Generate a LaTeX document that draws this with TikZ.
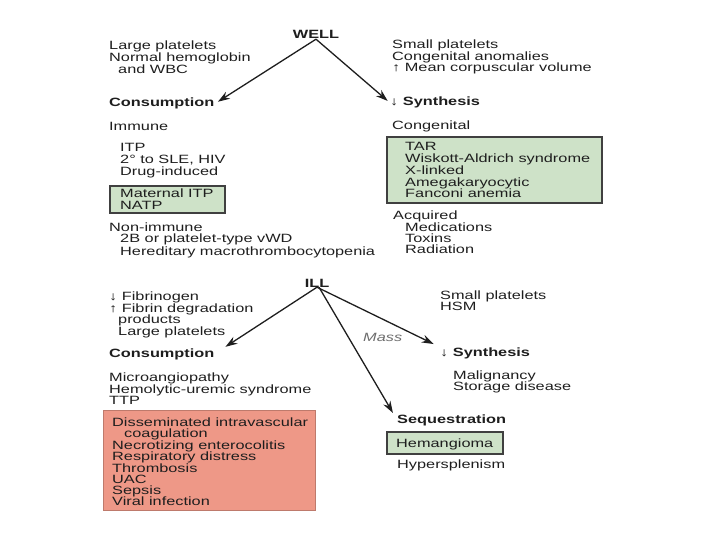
\documentclass[tikz,border=0pt]{standalone}
\usepackage{fontspec}
\setmainfont{Liberation Sans}[FakeStretch=1.36]
\usetikzlibrary{arrows.meta}
\definecolor{boxgreen}{RGB}{206,226,200}
\definecolor{boxred}{RGB}{238,152,135}
\definecolor{ink}{RGB}{30,30,30}

\begin{document}
\begin{tikzpicture}[x=1pt, y=-1pt]
	\tikzstyle{txt}    = [anchor=base west, inner sep=0pt, text=ink, font=\fontsize{12}{12}\selectfont]
	\tikzstyle{head}   = [txt, font=\fontsize{12}{12}\selectfont\bfseries]
	\tikzstyle{greenbox} = [draw=ink!85, line width=1.2pt, fill=boxgreen]
	\tikzstyle{redbox}   = [draw=boxred!80!black, line width=0.8pt, fill=boxred]
	\tikzstyle{branch} = [draw=ink, line width=1.3pt, -{Stealth[length=12pt, width=8pt]}]

	\useasboundingbox (0,0) rectangle (720,540);

%	WELL
	\node[head, anchor=base] (well) at (316, 39) {WELL};
	\node[head] (cons1) at (109, 107) {Consumption};
	\node[txt] (syn1) at (390, 106) {↓ \textbf{Synthesis}};

	\foreach \name/\x/\y/\text in {wl1/109/50/Large platelets, wl2/109/62/Normal hemoglobin, wl3/118/74/and WBC,
			wr1/392/49/Small platelets, wr2/392/61/Congenital anomalies, wr3/392/72/↑ Mean corpuscular volume,
			imm/109/131/Immune, itp/120/152/ITP, sle/120/164/{2° to SLE, HIV}, drug/120/176/Drug-induced,
			non/109/231/Non-immune, vwd/120/243/2B or platelet-type vWD, macro/120/255/Hereditary macrothrombocytopenia,
			cong/392/130/Congenital, acq/393/220/Acquired, med/405/232/Medications, tox/405/243/Toxins, rad/405/254/Radiation}
		\node[txt] (\name) at (\x, \y) {\text};

	\draw[greenbox] (110, 186) rectangle (225, 213);
	\node[txt] (mitp) at (120, 198) {Maternal ITP};
	\node[txt] (natp) at (120, 210) {NATP};

	\draw[greenbox] (387, 137) rectangle (602, 203);
	\foreach \name/\y/\text in {tar/151/TAR, wisk/163/Wiskott-Aldrich syndrome, xlink/175/X-linked, ameg/187/Amegakaryocytic, fanc/198/Fanconi anemia}
		\node[txt] (\name) at (405, \y) {\text};

	\draw[branch, shorten >=4pt] (well.south) -- (cons1.east);
	\draw[branch, shorten >=3pt] (well.south) -- (syn1.west);

%	ILL
	\node[head, anchor=base] (ill) at (317, 287) {ILL};
	\node[head] (cons2) at (109, 357) {Consumption};
	\node[txt] (syn2) at (440, 356) {↓ \textbf{Synthesis}};
	\node[head] (seq) at (397, 423) {Sequestration};
	\node[txt, font=\fontsize{12}{12}\selectfont\itshape, text=ink!65] (mass) at (363, 341) {Mass};

	\foreach \name/\x/\y/\text in {fib/109/300/↓ Fibrinogen, fdp/109/312/↑ Fibrin degradation, prod/118/323/products, lp/118/335/Large platelets,
			micro/109/381/Microangiopathy, hus/109/393/Hemolytic-uremic syndrome, ttp/109/404/TTP,
			sp/440/299/Small platelets, hsm/440/310/HSM, mal/453/379/Malignancy, stor/453/390/Storage disease,
			hyper/397/468/Hypersplenism}
		\node[txt] (\name) at (\x, \y) {\text};

	\draw[redbox] (103, 410) rectangle (315, 510);
	\foreach \name/\x/\y/\text in {dic/112/426/Disseminated intravascular, coag/124/437/coagulation, nec/112/449/Necrotizing enterocolitis,
			resp/112/460/Respiratory distress, thromb/112/472/Thrombosis, uac/112/483/UAC, seps/112/494/Sepsis, vir/112/505/Viral infection}
		\node[txt] (\name) at (\x, \y) {\text};

	\draw[greenbox] (387, 432) rectangle (503, 454);
	\node[txt] (hem) at (396, 447) {Hemangioma};

	\draw[branch, shorten >=13pt] (ill.south) -- (cons2.east);
	\draw[branch, shorten >=7pt] (ill.south) -- (syn2.north west);
	\draw[branch, shorten >=8pt] ([xshift=2pt]ill.south) -- (seq.west);
\end{tikzpicture}
\end{document}
